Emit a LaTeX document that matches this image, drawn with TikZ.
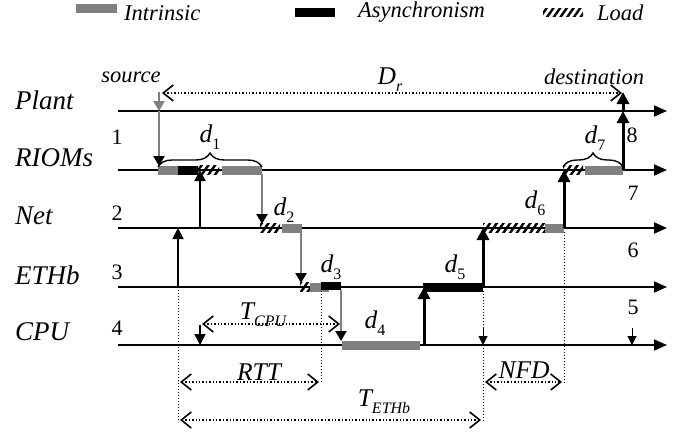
\documentclass[tikz,border=0pt]{standalone}
\usepackage{fontspec}
\setmainfont{Liberation Serif}
\usetikzlibrary{arrows.meta,patterns.meta,decorations.pathreplacing}
\definecolor{bargray}{RGB}{128,128,128}
\newcommand\mysub[1]{\raisebox{-0.28em}{\fontsize{16}{16}\selectfont #1}}
\begin{document}
\begin{tikzpicture}[x=1pt,y=-1pt,
  every node/.style={inner sep=0pt},
  lane/.style={font=\fontsize{27}{32}\selectfont\itshape, anchor=west},
  lbl/.style={font=\fontsize{25.5}{30}\selectfont\itshape},
  small/.style={font=\fontsize{22.5}{26}\selectfont\itshape},
  num/.style={font=\fontsize{22}{26}\selectfont},
  tl/.style={line width=1.8pt, -{Triangle[length=13pt,width=11pt]}},
  gbar/.style={fill=bargray, draw=none},
  bbar/.style={fill=black, draw=none},
  hbar/.style={pattern={Lines[angle=55,distance=5.5pt,line width=2.4pt]}, draw=none},
  gconn/.style={draw=bargray, line width=2.4pt, -{Triangle[length=10pt,width=11pt,color=black]}},
  thinup/.style={line width=1.8pt, -{Triangle[length=11pt,width=11pt]}},
  thickup/.style={line width=3pt, -{Triangle[length=12pt,width=12pt]}},
  dotv/.style={dotted, line width=1pt},
  dimarr/.style={dotted, line width=1.4pt, {Straight Barb[length=10pt,width=16pt,line width=1.6pt]}-{Straight Barb[length=10pt,width=16pt,line width=1.6pt]}},
  brc/.style={decorate, decoration={brace, amplitude=14pt}, line width=1.4pt}
]
\useasboundingbox (0,0) rectangle (691,434);

% legend
\fill[gbar] (76,4) rectangle (117,12.5);
\node[small, anchor=west] (legI) at (124,13) {Intrinsic};
\fill[bbar] (295,8) rectangle (335,16.5);
\node[small, anchor=west] (legA) at (358,12) {Asynchronism};
\fill[hbar] (543,8) rectangle (583,16.5);
\node[small, anchor=west] (legL) at (597,13) {Load};

% lane labels
\node[lane] (lPlant) at (15,100) {Plant};
\node[lane] (lRIOM) at (15,158) {RIOMs};
\node[lane] (lNet) at (15,216) {Net};
\node[lane] (lETH) at (15,275) {ETHb};
\node[lane] (lCPU) at (15,332) {CPU};

% timelines
\coordinate (P0) at (118,111); \coordinate (P1) at (667,111);
\coordinate (R0) at (118,170); \coordinate (R1) at (667,170);
\coordinate (N0) at (118,228); \coordinate (N1) at (667,228);
\coordinate (E0) at (118,287); \coordinate (E1) at (667,287);
\coordinate (C0) at (118,345); \coordinate (C1) at (667,345);
\draw[tl] (P0) -- (P1);
\draw[tl] (R0) -- (R1);
\draw[tl] (N0) -- (N1);
\draw[tl] (E0) -- (E1);
\draw[tl] (C0) -- (C1);

% numbers
\node[num] (n1) at (117,137) {1};
\node[num] (n2) at (117,213) {2};
\node[num] (n3) at (117,272) {3};
\node[num] (n4) at (117,328) {4};
\node[num] (n5) at (633,307) {5};
\node[num] (n6) at (633,250) {6};
\node[num] (n7) at (633,193) {7};
\node[num] (n8) at (632,135) {8};

% bars
\fill[gbar] (158,165.5) rectangle (178,174.5);
\fill[bbar] (178,165.5) rectangle (198,174.5);
\fill[hbar] (198,165.5) rectangle (219,174.5);
\fill[gbar] (222,165.5) rectangle (262,174.5);
\fill[hbar] (260,223.5) rectangle (280,232.5);
\fill[gbar] (282,223.5) rectangle (302,232.5);
\fill[hbar] (300,282.5) rectangle (310,291.5);
\fill[gbar] (310,282.5) rectangle (329,291.5);
\fill[bbar] (321,282) rectangle (341,290);
\fill[gbar] (342,340.5) rectangle (420,349.5);
\fill[bbar] (423,282.5) rectangle (483,291.5);
\fill[hbar] (483,223.5) rectangle (545,232.5);
\fill[gbar] (545,223.5) rectangle (564,232.5);
\fill[hbar] (563,165.5) rectangle (583,174.5);
\fill[gbar] (585,165.5) rectangle (623,174.5);

% source / destination
\node[small] (src) at (131,77) {source};
\node[small] (dst) at (594,77) {destination};
\coordinate (s0) at (159,92); \coordinate (s1) at (159,111); \coordinate (s2) at (159,166);
\draw[draw=bargray, line width=2.4pt, -{Triangle[length=10pt,width=11pt]}, color=bargray] (s0) -- (s1);
\draw[gconn] (s1) -- (s2);
\coordinate (t0) at (623,170); \coordinate (t1) at (623,111); \coordinate (t2) at (623,92);
\draw[thickup] (t0) -- (t1);
\draw[thickup] (t1) -- (t2);

% D_r
\coordinate (dr0) at (162,93); \coordinate (dr1) at (622,93);
\draw[dimarr] (dr0) -- (dr1);
\node[lbl] (Dr) at (390,80) {D\mysub{r}};

% braces
\draw[brc] (158,167) -- (262,167);
\draw[brc] (563,167) -- (623,167);
\node[lbl] (d1) at (210,137) {d\mysub{\upshape 1}};
\node[lbl] (d2) at (284,210) {d\mysub{\upshape 2}};
\node[lbl] (d3) at (331,267) {d\mysub{\upshape 3}};
\node[lbl] (d4) at (375,323) {d\mysub{\upshape 4}};
\node[lbl] (d5) at (455,267) {d\mysub{\upshape 5}};
\node[lbl] (d6) at (535,203) {d\mysub{\upshape 6}};
\node[lbl] (d7) at (595,138) {d\mysub{\upshape 7}};

% vertical connectors
\coordinate (a1) at (200,228); \coordinate (a1e) at (200,170);
\draw[thinup] (a1) -- (a1e);
\coordinate (a2) at (178,287); \coordinate (a2e) at (178,228);
\draw[thinup] (a2) -- (a2e);
\coordinate (g1) at (262,174); \coordinate (g1e) at (262,224);
\draw[gconn] (g1) -- (g1e);
\coordinate (g2) at (301,232); \coordinate (g2e) at (301,283);
\draw[gconn] (g2) -- (g2e);
\coordinate (g3) at (341,290); \coordinate (g3e) at (341,341);
\draw[gconn] (g3) -- (g3e);
\coordinate (u1) at (424,345); \coordinate (u1e) at (424,287);
\draw[thickup] (u1) -- (u1e);
\coordinate (u2) at (483,287); \coordinate (u2e) at (483,228);
\draw[thickup] (u2) -- (u2e);
\coordinate (u3) at (564,228); \coordinate (u3e) at (564,170);
\draw[thickup] (u3) -- (u3e);
\coordinate (dn1) at (200,325); \coordinate (dn1e) at (200,345);
\draw[thinup] (dn1) -- (dn1e);
\coordinate (dn2) at (483,328); \coordinate (dn2e) at (483,345);
\draw[line width=1pt, -{Triangle[length=9pt,width=9pt]}] (dn2) -- (dn2e);
\coordinate (dn3) at (632,328); \coordinate (dn3e) at (632,345);
\draw[line width=1pt, -{Triangle[length=9pt,width=9pt]}] (dn3) -- (dn3e);

% dotted verticals
\coordinate (v1a) at (178,287); \coordinate (v1b) at (178,422);
\coordinate (v2a) at (321,291); \coordinate (v2b) at (321,383);
\coordinate (v3a) at (483,291); \coordinate (v3b) at (483,422);
\coordinate (v4a) at (564,232); \coordinate (v4b) at (564,383);
\draw[dotv] (v1a) -- (v1b);
\draw[dotv] (v2a) -- (v2b);
\draw[dotv] (v3a) -- (v3b);
\draw[dotv] (v4a) -- (v4b);

% dimension arrows
\coordinate (tc0) at (202,324); \coordinate (tc1) at (340,324);
\draw[dimarr] (tc0) -- (tc1);
\node[lbl] (TCPU) at (263,315) {T\mysub{CPU}};
\coordinate (rt0) at (180,382); \coordinate (rt1) at (319,382);
\draw[dimarr] (rt0) -- (rt1);
\node[lbl] (RTT) at (259,372) {RTT};
\coordinate (te0) at (180,420); \coordinate (te1) at (481,420);
\draw[dimarr] (te0) -- (te1);
\node[lbl] (TETH) at (384,402) {T\mysub{ETHb}};
\coordinate (nf0) at (485,382); \coordinate (nf1) at (562,382);
\draw[dimarr] (nf0) -- (nf1);
\node[lbl] (NFD) at (524,370) {NFD};
\end{tikzpicture}
\end{document}
